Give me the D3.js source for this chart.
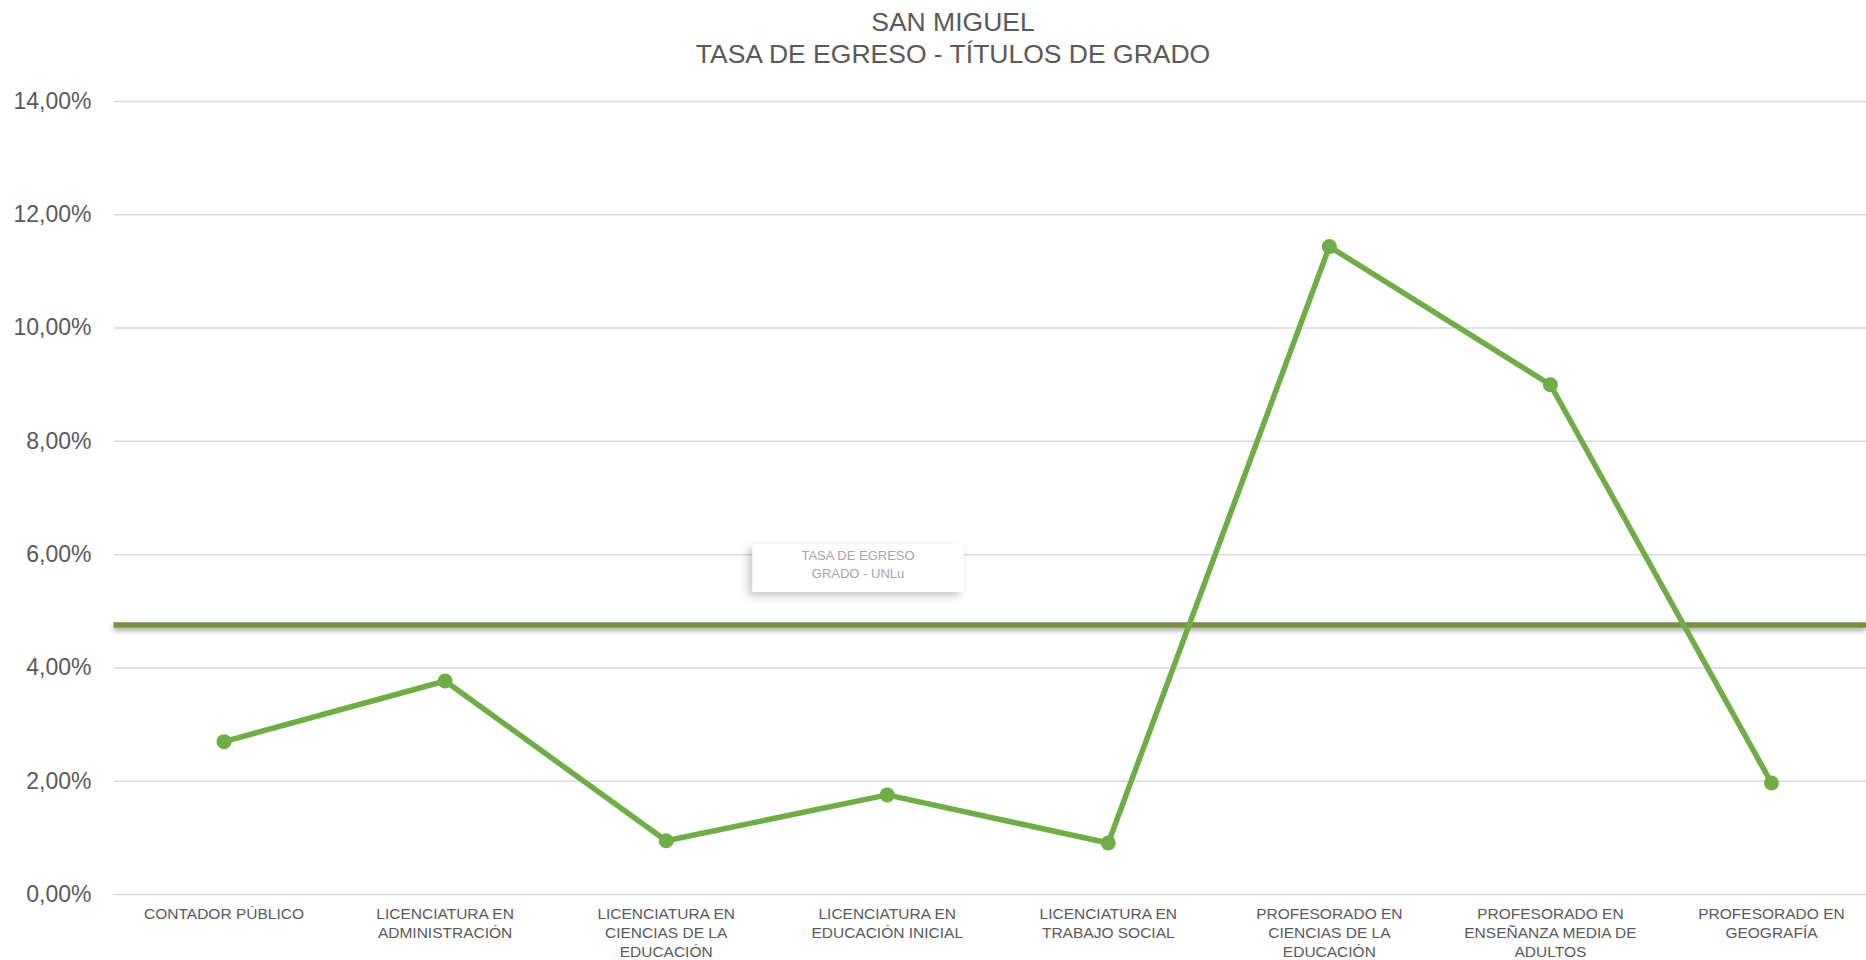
<!DOCTYPE html>
<html>
<head>
<meta charset="utf-8">
<script src="https://cdn.jsdelivr.net/npm/d3@7"></script>
<style>
  html, body { margin: 0; padding: 0; background: #fff; }
  svg { display: block; font-family: "Liberation Sans", Arial, sans-serif; }
</style>
</head>
<body>
<svg id="chart" width="1866" height="960"></svg>
<script>
// ---- data ----
const titleLines = ["SAN MIGUEL", "TASA DE EGRESO - TÍTULOS DE GRADO"];
const categories = [
  "CONTADOR PÚBLICO",
  "LICENCIATURA EN\nADMINISTRACIÓN",
  "LICENCIATURA EN\nCIENCIAS DE LA\nEDUCACIÓN",
  "LICENCIATURA EN\nEDUCACIÓN INICIAL",
  "LICENCIATURA EN\nTRABAJO SOCIAL",
  "PROFESORADO EN\nCIENCIAS DE LA\nEDUCACIÓN",
  "PROFESORADO EN\nENSEÑANZA MEDIA DE\nADULTOS",
  "PROFESORADO EN\nGEOGRAFÍA"
];
const tasaSanMiguel = [0.0269, 0.0376, 0.0094, 0.0175, 0.0090, 0.1143, 0.0899, 0.0196];
const tasaUNLu = 0.0475;
const referenceLabel = ["TASA DE EGRESO", "GRADO - UNLu"];
const yTicks = [0, 0.02, 0.04, 0.06, 0.08, 0.10, 0.12, 0.14];

// ---- layout ----
const svg = d3.select("#chart");
const plotLeft = 113.5, plotRight = 1866, bandRight = 1882;
const yTop = 101, yBottom = 894;
const textColor = "#595959";

const x = d3.scaleBand().domain(categories).range([plotLeft, bandRight]).padding(0);
const y = d3.scaleLinear().domain([0, 0.14]).range([yBottom, yTop]);

const esLocale = d3.formatLocale({decimal: ",", thousands: ".", grouping: [3], currency: ["", "€"]});
const pct = esLocale.format(".2%");

const defs = svg.append("defs");
const sh = defs.append("filter").attr("id", "lineShadow").attr("filterUnits", "userSpaceOnUse")
  .attr("x", 0).attr("y", 580).attr("width", 1866).attr("height", 80);
sh.append("feDropShadow").attr("dx", 0).attr("dy", 3).attr("stdDeviation", 2.5).attr("flood-color", "#000").attr("flood-opacity", 0.35);
const bsh = defs.append("filter").attr("id", "boxShadow").attr("x", "-20%").attr("y", "-30%").attr("width", "140%").attr("height", "170%");
bsh.append("feDropShadow").attr("dx", -4).attr("dy", 4).attr("stdDeviation", 4).attr("flood-color", "#000").attr("flood-opacity", 0.22);

// title
svg.append("g").selectAll("text").data(titleLines).join("text")
  .attr("x", 953).attr("y", (d, i) => 31 + i * 32)
  .attr("text-anchor", "middle").attr("font-size", 26.5).attr("fill", textColor)
  .text(d => d);

// gridlines
const yAxis = d3.axisLeft(y).tickValues(yTicks).tickFormat(pct).tickSize(-(plotRight - plotLeft)).tickPadding(22);
const gy = svg.append("g").attr("transform", `translate(${plotLeft},0)`).call(yAxis);
gy.select(".domain").remove();
gy.selectAll(".tick line").attr("stroke", "#d9d9d9").attr("stroke-width", 1.5);
gy.selectAll(".tick text").attr("font-size", 23).attr("fill", textColor)
  .attr("font-family", "'Liberation Sans', Arial, sans-serif");

// x axis labels
const xAxis = d3.axisBottom(x).tickSize(0).tickFormat("");
const gx = svg.append("g").attr("transform", `translate(0,${yBottom})`).call(xAxis);
gx.select(".domain").remove();
gx.selectAll(".tick").each(function(d) {
  const lines = d.split("\n");
  const t = d3.select(this).append("text")
    .attr("text-anchor", "middle").attr("font-size", 15.5).attr("fill", textColor)
    .attr("font-family", "'Liberation Sans', Arial, sans-serif");
  lines.forEach((ln, i) => {
    t.append("tspan").attr("x", 0).attr("y", 25 + i * 19).text(ln);
  });
});

// reference line (UNLu)
svg.append("line")
  .attr("x1", plotLeft).attr("x2", plotRight)
  .attr("y1", y(tasaUNLu)).attr("y2", y(tasaUNLu))
  .attr("stroke", "#77933C").attr("stroke-width", 5.5)
  .attr("filter", "url(#lineShadow)");

// reference label box
const lblCx = 858, lblW = 211, lblH = 48, lblTop = 544;
const lg = svg.append("g");
lg.append("rect").attr("x", lblCx - lblW / 2).attr("y", lblTop).attr("width", lblW).attr("height", lblH)
  .attr("fill", "#fff").attr("filter", "url(#boxShadow)");
lg.selectAll("text").data(referenceLabel).join("text")
  .attr("x", lblCx).attr("y", (d, i) => lblTop + 16 + i * 18)
  .attr("text-anchor", "middle").attr("font-size", 13).attr("fill", "#a6a6a6")
  .text(d => d);

// main series
const cx = d => x(d) + x.bandwidth() / 2;
const line = d3.line().x((d, i) => cx(categories[i])).y(d => y(d));
svg.append("path").datum(tasaSanMiguel)
  .attr("d", line).attr("fill", "none")
  .attr("stroke", "#70AD47").attr("stroke-width", 5.5).attr("stroke-linejoin", "round");
svg.append("g").selectAll("circle").data(tasaSanMiguel).join("circle")
  .attr("cx", (d, i) => cx(categories[i])).attr("cy", d => y(d))
  .attr("r", 7.5).attr("fill", "#70AD47");
</script>
</body>
</html>
